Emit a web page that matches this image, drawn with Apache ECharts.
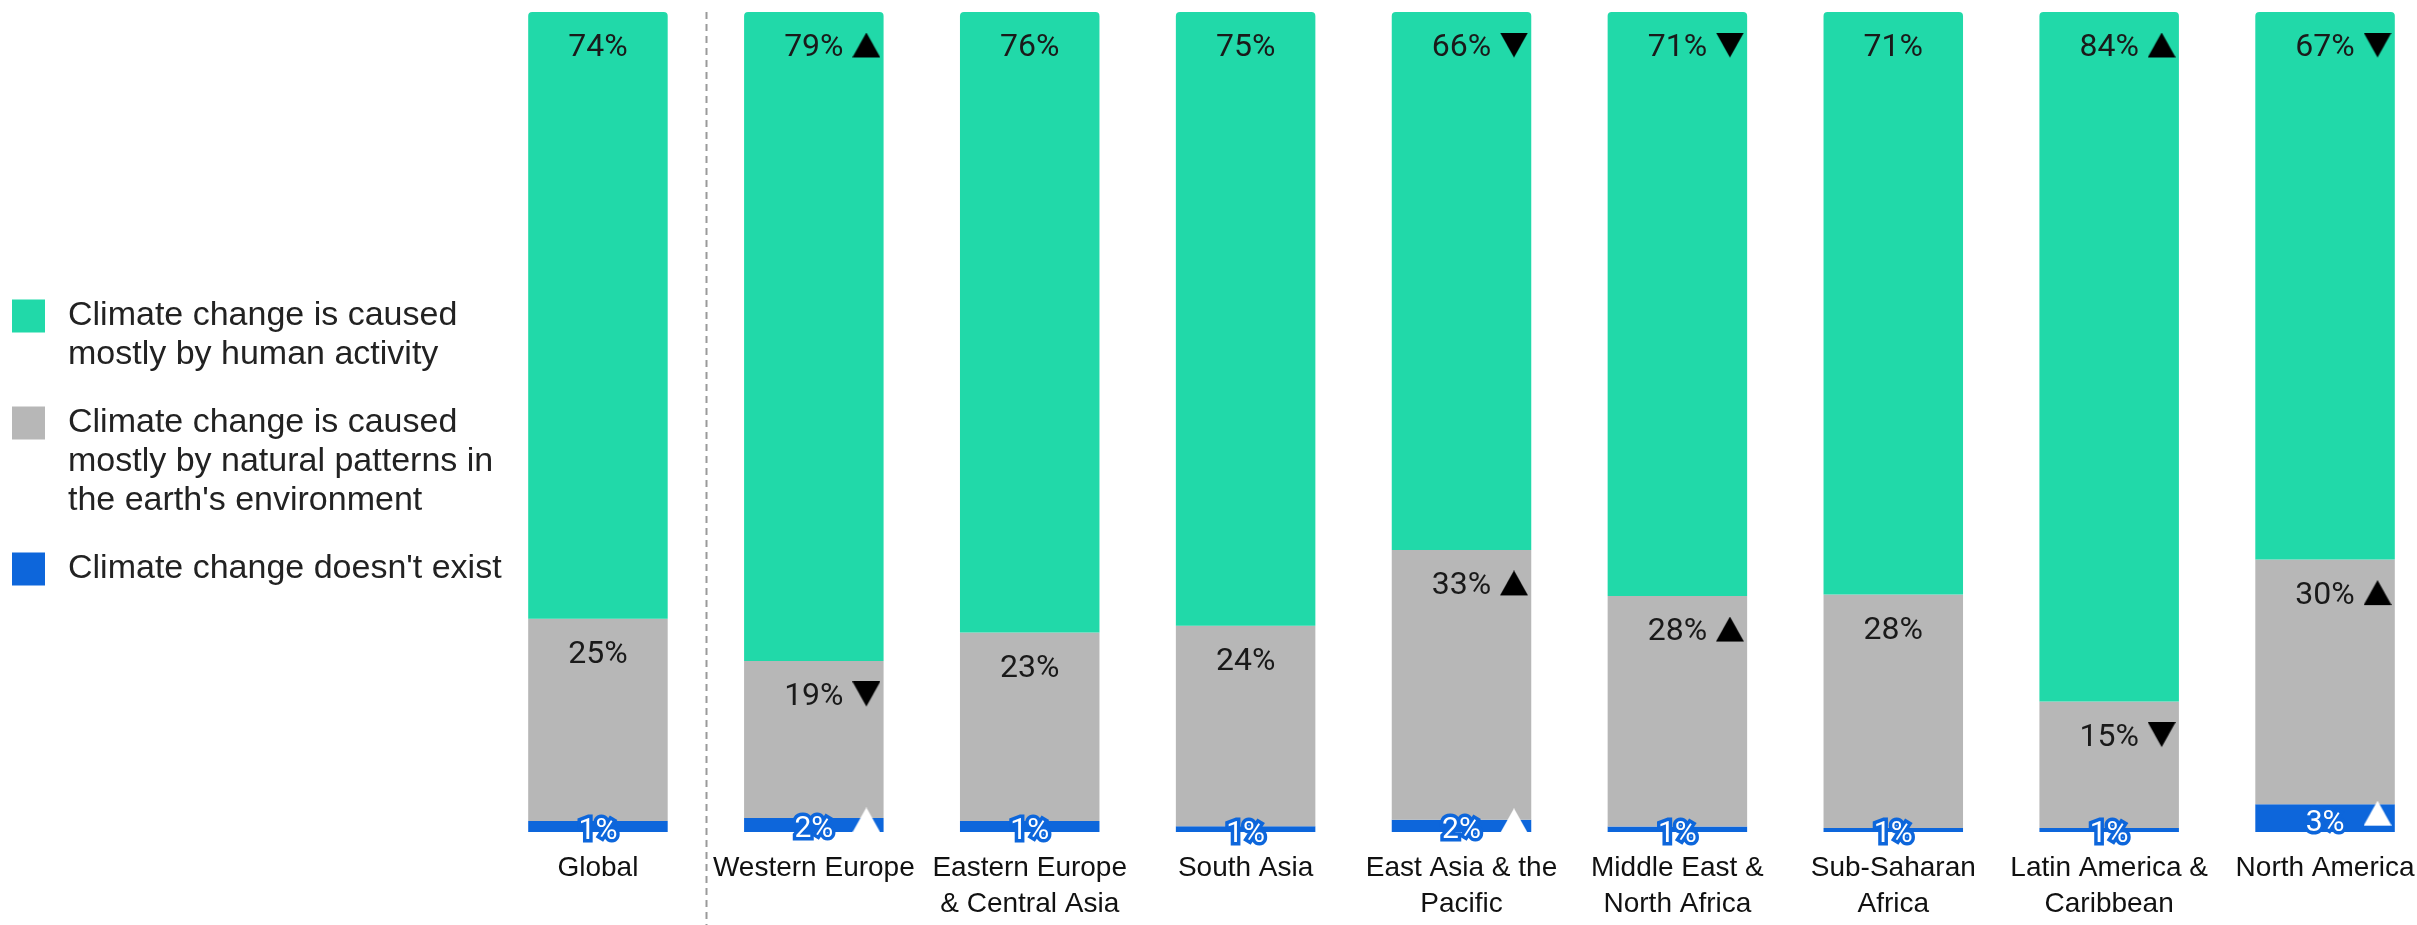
<!DOCTYPE html>
<html>
<head>
<meta charset="utf-8">
<script src="https://cdn.jsdelivr.net/npm/echarts@6/dist/echarts.min.js"></script>
<style>
html, body { margin: 0; padding: 0; background: #fff; }
#main { width: 2417px; height: 925px; }
</style>
</head>
<body>
<div id="main"></div>
<script>
var categories = [
  'Global',
  'Western Europe',
  'Eastern Europe\n& Central Asia',
  'South Asia',
  'East Asia & the\nPacific',
  'Middle East &\nNorth Africa',
  'Sub-Saharan\nAfrica',
  'Latin America &\nCaribbean',
  'North America'
];

var seriesNames = [
  'Climate change is caused\nmostly by human activity',
  'Climate change is caused\nmostly by natural patterns in\nthe earth\'s environment',
  'Climate change doesn\'t exist'
];

// shares in %, each column sums to 100
var humanValues = [73.98, 79.14, 75.68, 74.85, 65.6, 71.22, 71.05, 84.1, 66.78];
var naturalValues = [24.68, 19.15, 22.98, 24.45, 32.9, 28.12, 28.45, 15.4, 29.84];
var notExistValues = [1.34, 1.71, 1.34, 0.7, 1.5, 0.66, 0.5, 0.5, 3.38];

// change markers shown next to the labels
var humanChange = ['', 'up', '', '', 'down', 'down', '', 'up', 'down'];
var naturalChange = ['', 'down', '', '', 'up', 'up', '', 'down', 'up'];
var notExistChange = ['', 'up', '', '', 'up', '', '', '', 'up'];

var GREEN = '#21D9A9';
var GRAY = '#B7B7B7';
var BLUE = '#0D66DB';

// triangle drawn at the top of a taller canvas, so it sits higher than the text centre
function triangle(color, up, lift) {
  var c = document.createElement('canvas');
  c.width = 28;
  c.height = 25 + lift * 2;
  var g = c.getContext('2d');
  g.fillStyle = color;
  g.beginPath();
  if (up) {
    g.moveTo(14, 0); g.lineTo(28, 25); g.lineTo(0, 25);
  } else {
    g.moveTo(0, 0); g.lineTo(28, 0); g.lineTo(14, 25);
  }
  g.closePath();
  g.fill();
  return c;
}

var rich = {
  pad: { width: 31 },
  sp: { width: 28 },
  gap: { width: 3 },
  num: {
    width: 77, align: 'center', fontSize: 32, lineHeight: 36,
    fontFamily: 'Roboto', color: '#1a1a1a'
  },
  wnum: {
    width: 77, align: 'center', fontSize: 30, lineHeight: 34,
    fontFamily: 'Roboto', color: '#fff',
    textBorderColor: BLUE, textBorderWidth: 7
  },
  up: { width: 28, height: 31, backgroundColor: { image: triangle('#000', true, 3) } },
  down: { width: 28, height: 31, backgroundColor: { image: triangle('#000', false, 3) } },
  wup: { width: 28, height: 45, backgroundColor: { image: triangle('#fff', true, 10) } }
};

function labelFormatter(changes, numStyle, upStyle, downStyle) {
  return function (p) {
    var c = changes[p.dataIndex];
    var mark = c === 'up' ? '{' + upStyle + '|}' : (c === 'down' ? '{' + downStyle + '|}' : '{sp|}');
    return '{pad|}{' + numStyle + '|' + Math.round(p.value) + '%}' + mark + '{gap|}';
  };
}

function legendFor(name, lines, iconCenter) {
  var lh = 39;
  var boxH = Math.max((2 * lines - 1) * lh, 33);
  return {
    data: [name],
    orient: 'vertical',
    left: 12,
    top: iconCenter - boxH / 2,
    padding: 0,
    itemWidth: 33,
    itemHeight: 33,
    icon: 'rect',
    selectedMode: false,
    // blank lines above keep the icon level with the first line
    formatter: function (n) {
      return new Array(lines).join('\n') + n;
    },
    textStyle: {
      fontFamily: 'Liberation Sans',
      fontSize: 34,
      lineHeight: lh,
      color: '#222',
      padding: [0, 0, 0, 18]
    }
  };
}

var chartDom = document.getElementById('main');
var myChart = echarts.init(chartDom);
var option;

option = {
  animation: false,
  legend: [
    legendFor(seriesNames[0], 2, 316),
    legendFor(seriesNames[1], 3, 423),
    legendFor(seriesNames[2], 1, 569)
  ],
  grid: {
    left: 490,
    top: 12,
    width: 1943,
    height: 820,
    outerBoundsMode: 'none'
  },
  xAxis: {
    type: 'category',
    data: categories,
    axisLine: { show: false },
    axisTick: { show: false },
    axisLabel: {
      interval: 0,
      margin: 18,
      fontFamily: 'Liberation Sans',
      fontSize: 28,
      lineHeight: 36,
      color: '#111'
    }
  },
  yAxis: {
    type: 'value',
    min: 0,
    max: 100,
    show: false
  },
  series: [
    {
      name: seriesNames[2],
      type: 'bar',
      stack: 'total',
      barWidth: 139.5,
      data: notExistValues,
      itemStyle: { color: BLUE },
      label: {
        show: true,
        position: 'inside',
        offset: [0, 5],
        formatter: labelFormatter(notExistChange, 'wnum', 'wup', 'wup'),
        rich: rich
      }
    },
    {
      name: seriesNames[1],
      type: 'bar',
      stack: 'total',
      barWidth: 139.5,
      data: naturalValues,
      itemStyle: { color: GRAY },
      label: {
        show: true,
        position: 'insideTop',
        distance: 18,
        formatter: labelFormatter(naturalChange, 'num', 'up', 'down'),
        rich: rich
      }
    },
    {
      name: seriesNames[0],
      type: 'bar',
      stack: 'total',
      barWidth: 139.5,
      data: humanValues,
      itemStyle: { color: GREEN, borderRadius: [4, 4, 0, 0] },
      label: {
        show: true,
        position: 'insideTop',
        distance: 18,
        formatter: labelFormatter(humanChange, 'num', 'up', 'down'),
        rich: rich
      }
    }
  ]
};

option && myChart.setOption(option);

// dashed separator between Global and the regions
var xa = myChart.convertToPixel({ xAxisIndex: 0 }, 0);
var xb = myChart.convertToPixel({ xAxisIndex: 0 }, 1);
var xm = Math.round((xa + xb) / 2) + 0.5;
myChart.setOption({
  graphic: [{
    type: 'line',
    silent: true,
    shape: { x1: xm, y1: 12, x2: xm, y2: 925 },
    style: { stroke: '#9a9a9a', lineWidth: 2, lineDash: [7, 5] }
  }]
});
</script>
</body>
</html>
